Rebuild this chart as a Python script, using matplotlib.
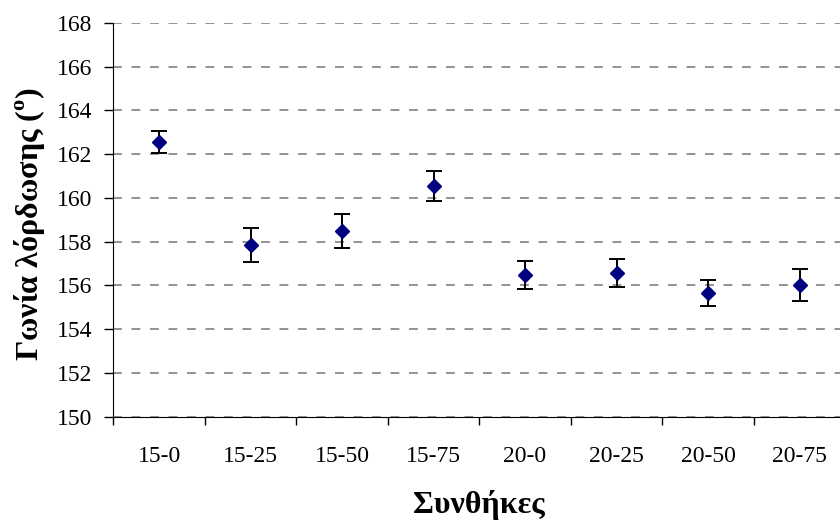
import numpy as np
import matplotlib
matplotlib.use("Agg")
import matplotlib.pyplot as plt

plt.rcParams['font.family'] = ['Liberation Serif', 'DejaVu Serif']
plt.rcParams['mathtext.fontset'] = 'custom'
plt.rcParams['mathtext.rm'] = 'Liberation Serif'
plt.rcParams['mathtext.bf'] = 'Liberation Serif:bold'

# Conditions (temperature - percentage) and measured angle with its error
conditions = ["15-0", "15-25", "15-50", "15-75", "20-0", "20-25", "20-50", "20-75"]
angle_mean = [162.55, 157.85, 158.48, 160.55, 156.48, 156.57, 155.65, 156.03]
angle_err = [0.50, 0.77, 0.78, 0.68, 0.64, 0.64, 0.59, 0.73]
y_ticks = [150, 152, 154, 156, 158, 160, 162, 164, 166, 168]

fig = plt.figure(figsize=(8.4, 5.26), dpi=100)
ax = fig.add_axes([0.1349, 0.2078, 0.8714, 0.7485])

x = np.arange(len(conditions))
ax.errorbar(x, angle_mean, yerr=angle_err, fmt='none', ecolor='black',
            elinewidth=1.4, capsize=5.6, capthick=1.4, zorder=3)
ax.plot(x, angle_mean, linestyle='none', marker='D', markersize=6.7,
        color='#000080', zorder=4)

ax.set_ylim(150, 168)
ax.set_yticks(y_ticks)
ax.set_xlim(-0.5, len(conditions) - 0.5)

# category boundaries get tick marks, centres get the labels
ax.set_xticks(np.arange(-0.5, len(conditions), 1))
ax.set_xticklabels([])
ax.set_xticks(x, minor=True)
ax.set_xticklabels(conditions, minor=True)
ax.tick_params(axis='x', which='major', direction='out', length=5.5, width=1)
ax.tick_params(axis='x', which='minor', length=0, pad=21, labelsize=17)
ax.tick_params(axis='y', direction='out', length=6.5, width=1, pad=8.4, labelsize=17)

ax.yaxis.grid(True, color='#808080', linewidth=1.2, dashes=(5.3, 5.8))
ax.set_axisbelow(True)
for side in ('top', 'right'):
    ax.spines[side].set_visible(False)
ax.spines['left'].set_color('black')
ax.spines['bottom'].set_color('black')

ax.set_xlabel("Συνθήκες", fontsize=23, fontweight='bold')
ax.xaxis.set_label_coords(0.5, -0.185)
ax.set_ylabel("Γωνία λόρδωσης (" + r"$^{\mathbf{o}}$" + ")", fontsize=23, fontweight='bold')
ax.yaxis.set_label_coords(-0.09, 0.49)

fig.savefig("out.png", dpi=100)
